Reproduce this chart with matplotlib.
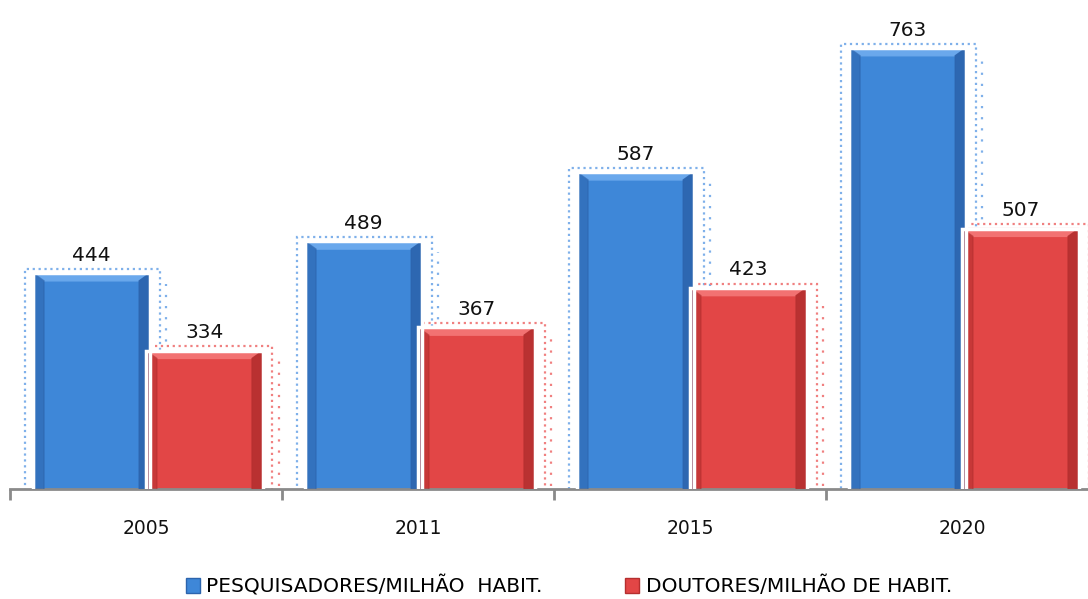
import numpy as np
import matplotlib.pyplot as plt
from matplotlib.patches import Polygon, Rectangle, Patch

years = ["2005", "2011", "2015", "2020"]
pesquisadores = [444, 489, 587, 763]
doutores = [334, 367, 423, 507]
series_names = ["PESQUISADORES/MILHÃO  HABIT.", "DOUTORES/MILHÃO DE HABIT."]

# main / top bevel / side bevel / dotted halo
blue = ("#3e87d8", "#6aa8ec", "#2c64ad", "#7fb0ea")
red = ("#e24646", "#f27272", "#b52f2f", "#f08080")

fig = plt.figure(figsize=(10.88, 5.99), dpi=100)
ax = fig.add_axes([10 / 1088, 110 / 599, 1078 / 1088, 489 / 599])
ax.set_xlim(-0.5, 3.463)
ax.set_ylim(138, 831)

x = np.arange(len(years))
w = 0.43
bw, bh = 0.04, 11  # bevel size in data units


def bevel_bar(xc, val, cols):
    main, top, side, halo = cols
    x0, x1 = xc - w / 2, xc + w / 2
    # dotted halo around the bar
    ax.add_patch(Rectangle((x0 - 0.03, 0), w + 0.065, val + 6, fill=False,
                           edgecolor=halo, linestyle=":", lw=1.6, zorder=1))
    ax.plot([x1 + 0.06, x1 + 0.06], [0, val - 15], color=halo, ls=(0, (1, 4)),
            lw=1.6, zorder=1)
    ax.bar(xc, val, w, color=main, edgecolor="white", lw=2.5, zorder=2)
    y0 = 0
    ax.add_patch(Polygon([(x0, val), (x1, val), (x1 - bw, val - bh), (x0 + bw, val - bh)],
                         closed=True, color=top, zorder=3))
    ax.add_patch(Polygon([(x0, val), (x0 + bw, val - bh), (x0 + bw, y0), (x0, y0)],
                         closed=True, color=side, alpha=0.6, zorder=3))
    ax.add_patch(Polygon([(x1, val), (x1 - bw, val - bh), (x1 - bw, y0), (x1, y0)],
                         closed=True, color=side, alpha=0.9, zorder=3))
    ax.add_patch(Rectangle((x0, 0), w, val, fill=False, edgecolor="white", lw=2.5, zorder=4))
    ax.text(xc, val + 12, str(val), ha="center", va="bottom", fontsize=14.5, color="#111111")


for i in x:
    bevel_bar(i - 0.2, pesquisadores[i], blue)
    bevel_bar(i + 0.215, doutores[i], red)

for s in ["left", "right", "top"]:
    ax.spines[s].set_visible(False)
ax.spines["bottom"].set_color("#8a8a8a")
ax.spines["bottom"].set_linewidth(2)
ax.set_yticks([])
ax.set_xticks([-0.5, 0.5, 1.5, 2.5])
ax.set_xticklabels([])
ax.tick_params(axis="x", length=8, width=2, color="#8a8a8a", direction="out")
for i, yr in enumerate(years):
    ax.text(i, -39 / 489, yr, transform=ax.get_xaxis_transform(), ha="center", va="center",
            fontsize=13.5, color="#111111")

handles = [Patch(facecolor=blue[0], edgecolor=blue[2]), Patch(facecolor=red[0], edgecolor=red[2])]
fig.legend(handles, series_names, loc="center", bbox_to_anchor=(0.523, 1 - 586 / 599),
           ncol=2, frameon=False, columnspacing=4.1, handlelength=0.7, handleheight=0.7,
           handletextpad=0.3, borderpad=0.2, prop={"family": "DejaVu Sans", "size": 14.5})

fig.savefig("out.png", dpi=100)
